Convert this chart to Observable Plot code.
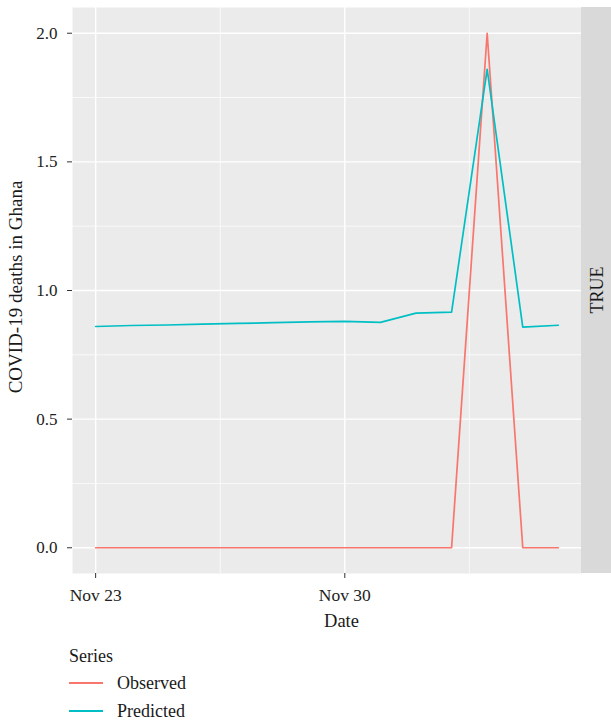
<!DOCTYPE html>
<html>
<head>
<meta charset="utf-8">
<script src="https://cdn.jsdelivr.net/npm/d3@7"></script>
<script src="https://cdn.jsdelivr.net/npm/@observablehq/plot@0.6"></script>
<style>
  body { margin: 0; background: white; font-family: "Liberation Serif", serif; }
  #wrap { position: relative; width: 611px; height: 720px; }
  #legend { position: absolute; left: 0; top: 640px; width: 611px; height: 80px; color: #1a1a1a; }
  .lg { position: absolute; font-size: 18px; line-height: 20px; white-space: nowrap; }
  .key { position: absolute; width: 34px; height: 2px; }
</style>
</head>
<body>
<div id="wrap">
  <div id="chart"></div>
  <div id="legend"></div>
</div>
<script>
const dates = ["2020-11-23","2020-11-24","2020-11-25","2020-11-26","2020-11-27","2020-11-28","2020-11-29",
               "2020-11-30","2020-12-01","2020-12-02","2020-12-03","2020-12-04","2020-12-05","2020-12-06"];
const observed  = [0,0,0,0,0,0,0,0,0,0,0,2,0,0];
const predicted = [0.860,0.864,0.866,0.869,0.872,0.875,0.878,0.880,0.876,0.912,0.916,1.86,0.858,0.865];
const seriesNames = ["Observed","Predicted"];
const seriesColors = ["#F8766D","#00BFC4"];
const yTicks = [0, 0.5, 1.0, 1.5, 2.0];
const yMinor = [0.25, 0.75, 1.25, 1.75];
const xTickLabels = ["2020-11-23","2020-11-30"];
const xMinorDates = ["2020-11-26T12:00Z","2020-12-03T12:00Z"];
const facetLabel = "TRUE";
const xTitle = "Date";
const yTitle = "COVID-19 deaths in Ghana";
const legendTitle = "Series";

const data = dates.flatMap((d, i) => [
  {date: new Date(d), value: observed[i], series: seriesNames[0]},
  {date: new Date(d), value: predicted[i], series: seriesNames[1]}
]);

const t0 = new Date(dates[0]).getTime(), t1 = new Date(dates[dates.length-1]).getTime();
const pad = (t1 - t0) * 0.05;
const xTicks = xTickLabels.map(d => new Date(d));
const xMinor = xMinorDates.map(d => new Date(d));

const plot = Plot.plot({
  width: 611,
  height: 640,
  marginLeft: 72,
  marginRight: 30,
  marginTop: 7,
  marginBottom: 67,
  style: {fontFamily: "Liberation Serif, serif", fontSize: "17px", background: "white", overflow: "visible"},
  x: {type: "utc", domain: [new Date(t0 - pad), new Date(t1 + pad)]},
  y: {domain: [-0.1, 2.1]},
  color: {domain: seriesNames, range: seriesColors},
  marks: [
    Plot.frame({fill: "#EBEBEB", stroke: null}),
    Plot.gridY(yMinor, {stroke: "white", strokeOpacity: 1, strokeWidth: 0.7}),
    Plot.gridX(xMinor, {stroke: "white", strokeOpacity: 1, strokeWidth: 0.7}),
    Plot.gridY(yTicks, {stroke: "white", strokeOpacity: 1, strokeWidth: 1.4}),
    Plot.gridX(xTicks, {stroke: "white", strokeOpacity: 1, strokeWidth: 1.4}),
    Plot.lineY(data, {x: "date", y: "value", stroke: "series", strokeWidth: 1.7}),
    Plot.axisY(yTicks, {tickSize: 5, tickPadding: 10, tickFormat: d => d.toFixed(1), label: null,
      stroke: "#333", fill: "#222", fontSize: 17}),
    Plot.axisX(xTicks, {tickSize: 5, tickPadding: 10, tickFormat: d3.utcFormat("%b %d"), label: null,
      stroke: "#333", fill: "#222", fontSize: 17.5})
  ]
});

document.getElementById("chart").appendChild(plot);

const xr = plot.scale("x").range, yr = plot.scale("y").range;
const svg = d3.select(plot);
const stripX = Math.max(...xr);
const panelLeft = Math.min(...xr);
const panelTop = Math.min(...yr), panelBottom = Math.max(...yr);

// facet strip on the right
svg.append("rect").attr("x", stripX).attr("y", panelTop).attr("width", 611 - stripX).attr("height", panelBottom - panelTop)
  .attr("fill", "#D9D9D9");
svg.append("text").attr("transform", `translate(${stripX + (611 - stripX)/2 + 1},${(panelTop+panelBottom)/2}) rotate(-90)`)
  .attr("text-anchor", "middle").attr("dominant-baseline", "central")
  .attr("font-size", 18).attr("fill", "#1a1a1a").text(facetLabel);

// axis titles
svg.append("text").attr("x", (panelLeft + 611) / 2).attr("y", 627)
  .attr("text-anchor", "middle").attr("font-size", 18.5).attr("fill", "#1a1a1a").text(xTitle);
svg.append("text").attr("transform", `translate(22,${(panelTop+panelBottom)/2 - 3}) rotate(-90)`)
  .attr("text-anchor", "middle").attr("font-size", 19).attr("fill", "#1a1a1a").text(yTitle);

// legend
const lg = document.getElementById("legend");
const title = document.createElement("div");
title.className = "lg"; title.style.left = "69px"; title.style.top = "6px"; title.textContent = legendTitle;
lg.appendChild(title);
seriesNames.forEach((s, i) => {
  const y = 42 + i * 28;
  const k = document.createElement("div");
  k.className = "key"; k.style.left = "69px"; k.style.top = y + "px"; k.style.background = seriesColors[i];
  lg.appendChild(k);
  const t = document.createElement("div");
  t.className = "lg"; t.style.left = "117px"; t.style.top = (y - 9) + "px"; t.textContent = s;
  lg.appendChild(t);
});
</script>
</body>
</html>
